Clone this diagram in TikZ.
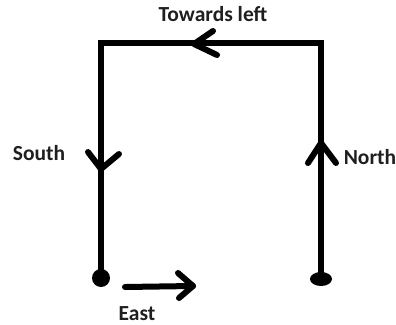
\documentclass[tikz,border=0pt]{standalone}
\usepackage{fontspec}
\setmainfont{Carlito}
\begin{document}
\begin{tikzpicture}[x=1pt,y=-1pt,
  path/.style={line width=6pt,line join=miter},
  chev/.style={line width=6pt,line cap=round,line join=round},
  lbl/.style={font=\bfseries\fontsize{21.5}{24}\selectfont,text=black!88,inner sep=0pt}]
\useasboundingbox (0,0) rectangle (396,324);
\coordinate (BL) at (101,278);
\coordinate (TL) at (101,43);
\coordinate (TR) at (321,43);
\coordinate (BR) at (321,279);
\draw[path] (BL) -- (TL) -- (TR) -- (BR);
\fill (BL) circle (9);
\fill (BR) ellipse (11 and 7);
% top arrow (towards left)
\coordinate (tt) at (194,44);
\draw[chev] (213,31) -- (tt) -- (217,55);
% south arrow
\coordinate (st) at (101,169);
\draw[chev] (88,152) -- (st) -- (119,154);
% north arrow
\coordinate (nt) at (321,143);
\draw[chev] (308,163) -- (nt) -- (336,163);
% east arrow
\coordinate (es) at (125,287);
\coordinate (et) at (193,286);
\draw[chev] (es) -- (et);
\draw[chev] (178,273) -- (et) -- (179,298);
\node[lbl] (t1) at (213,14) {Towards left};
\node[lbl] (t2) at (39,153) {South};
\node[lbl] (t3) at (370,157) {North};
\node[lbl,anchor=base] (t4) at (137,320) {East};
\end{tikzpicture}
\end{document}
